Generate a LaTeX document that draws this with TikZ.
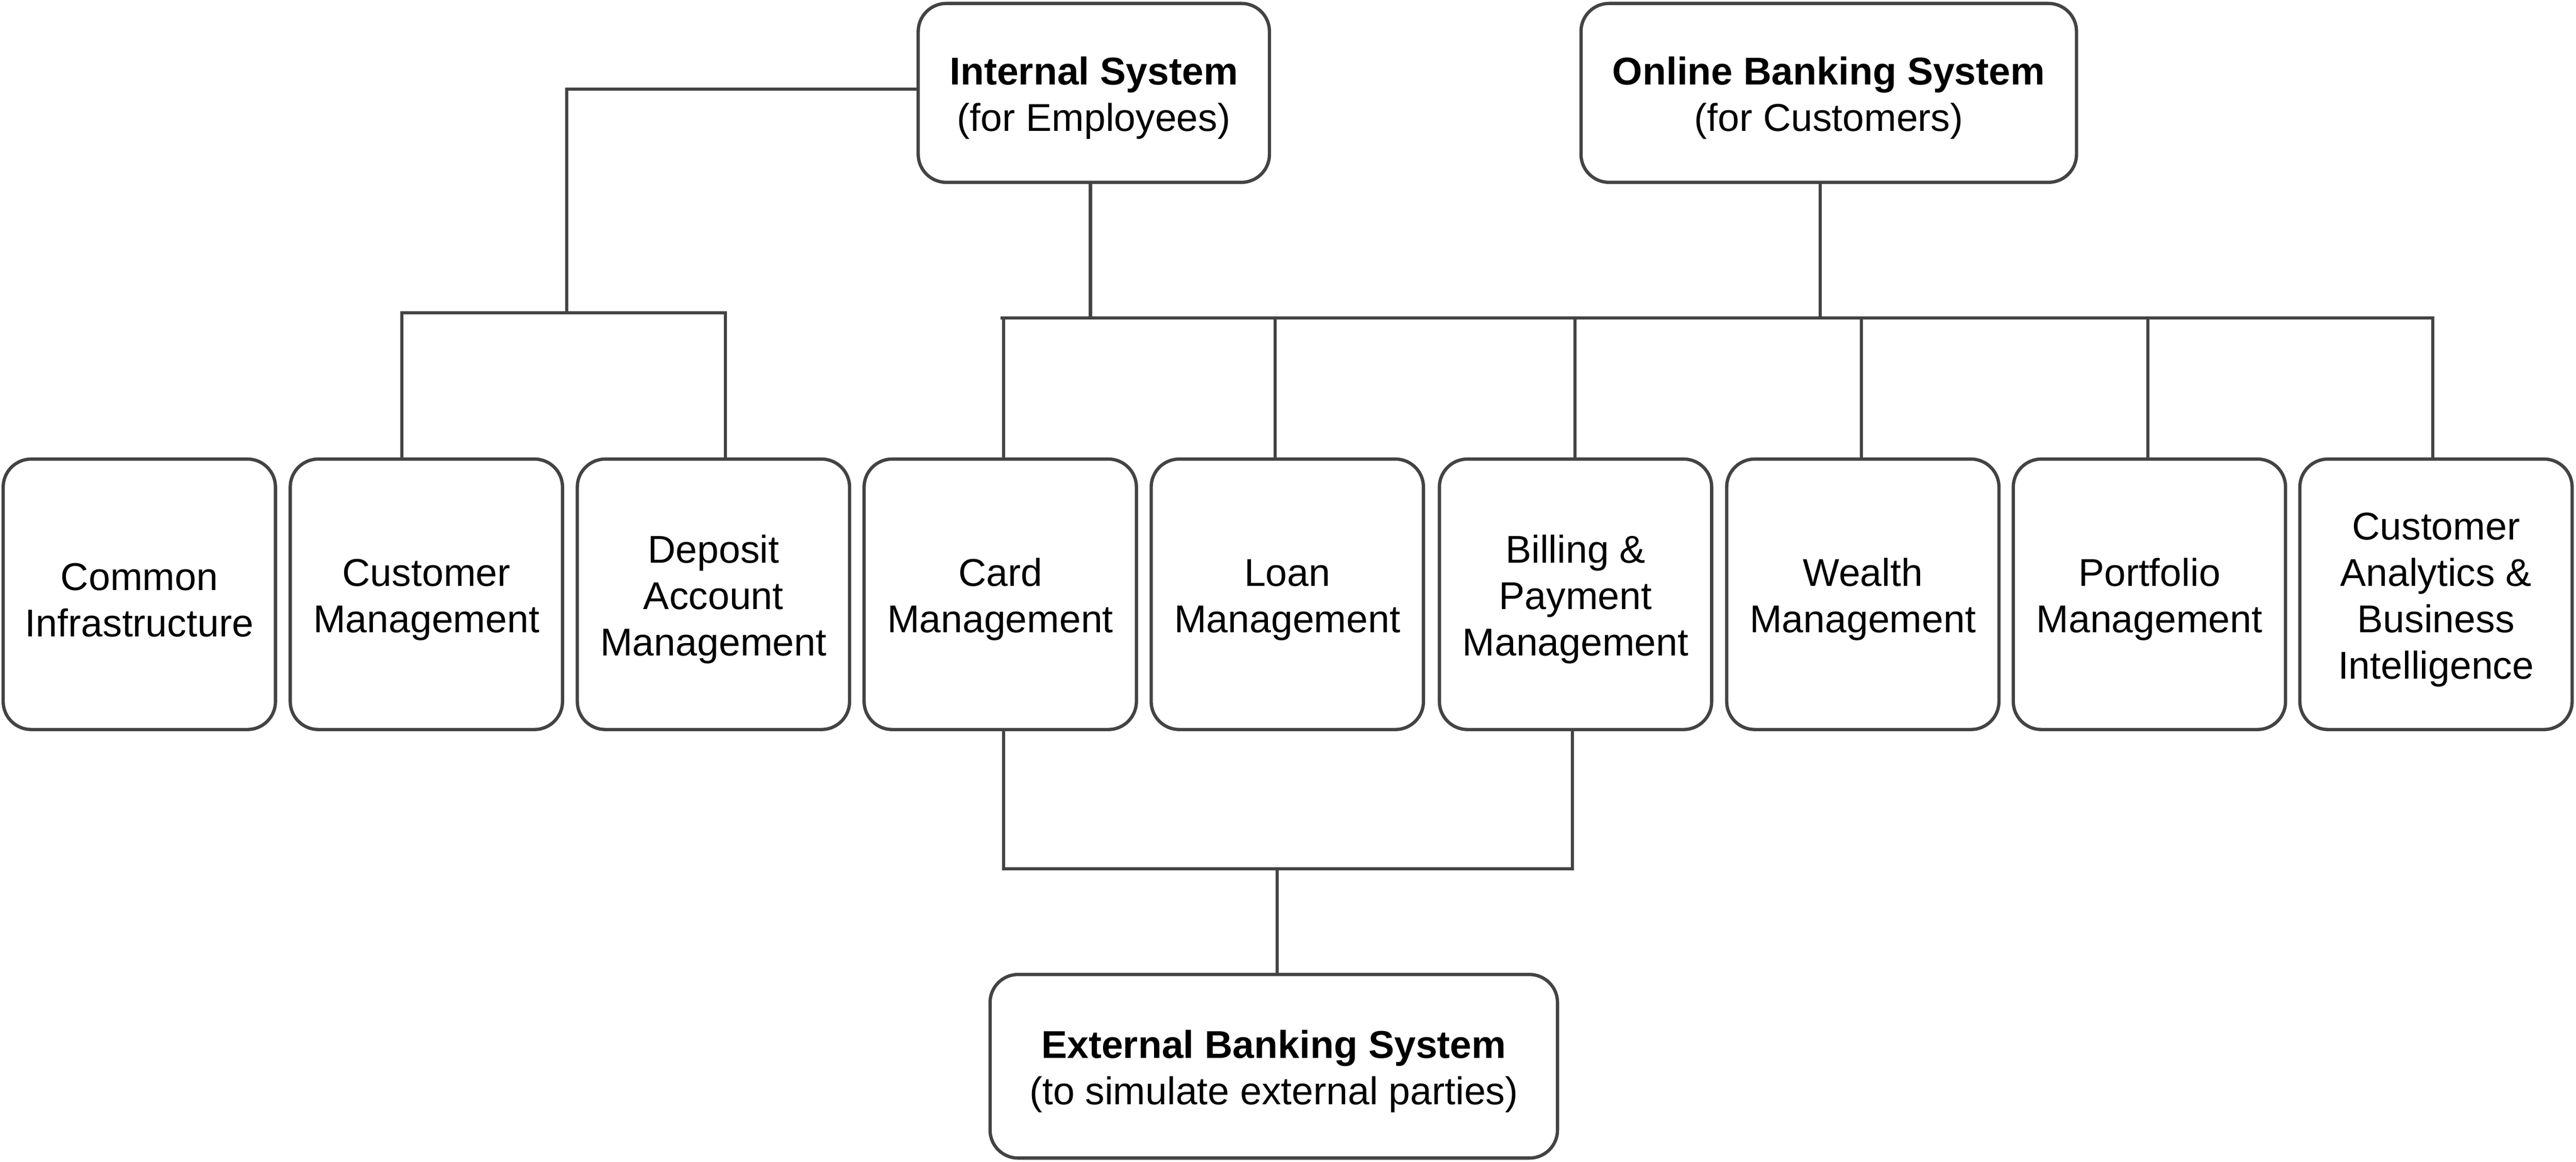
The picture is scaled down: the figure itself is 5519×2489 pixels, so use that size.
\documentclass[tikz,border=0pt]{standalone}
\usepackage{fontspec}
\setmainfont{Liberation Sans}
\definecolor{linegray}{HTML}{434343}
\newcommand{\topstrut}{\rule{0pt}{0.82cm}}
\begin{document}
\begin{tikzpicture}[x=0.01cm,y=-0.01cm,
  box/.style={draw=linegray, line width=2pt, rounded corners=0.6cm, fill=white,
    align=center, inner sep=0pt, font=\fontsize{23.6}{28.3}\selectfont},
  midbox/.style={box, minimum width=5.83cm, minimum height=5.79cm},
  conn/.style={draw=linegray, line width=2pt}]
\fill[white] (0,0) rectangle (5519,2489);
\useasboundingbox (0,0) rectangle (5519,2489);

% top boxes
\node[box, minimum width=7.52cm, minimum height=3.83cm] (int) at (2343.5,199)
  {\topstrut\textbf{Internal System}\\(for Employees)};
\node[box, minimum width=10.61cm, minimum height=3.83cm] (onl) at (3918,199)
  {\topstrut\textbf{Online Banking System}\\(for Customers)};

% middle row
\node[midbox] (com)  at (298.5,1273)  {\topstrut Common\\Infrastructure};
\node[midbox] (cust) at (913.5,1273)  {\topstrut Customer\\Management};
\node[midbox] (dep)  at (1528.5,1273) {\topstrut Deposit\\Account\\Management};
\node[midbox] (card) at (2143,1273)   {\topstrut Card\\Management};
\node[midbox] (loan) at (2758,1273)   {\topstrut Loan\\Management};
\node[midbox] (bill) at (3375.5,1273) {\topstrut Billing \&\\Payment\\Management};
\node[midbox] (wea)  at (3991,1273)   {\topstrut Wealth\\Management};
\node[midbox] (port) at (4605,1273)   {\topstrut Portfolio\\Management};
\node[midbox] (ana)  at (5219,1273)   {\topstrut Customer\\Analytics \&\\Business\\Intelligence};

% bottom box
\node[box, minimum width=12.15cm, minimum height=3.93cm] (ext) at (2729,2284)
  {\topstrut\textbf{External Banking System}\\(to simulate external parties)};

% internal system -> left branch
\coordinate (lv) at (1214,670);
\coordinate (la) at (861,670);
\coordinate (lb) at (1554,670);
\draw[conn] ([yshift=0.08cm]int.west) -| (lv);
\draw[conn] (cust.north -| la) -- (la) -- (lb) -- (dep.north -| lb);

% shared bus
\coordinate (iB) at (2336,681);
\coordinate (oB) at (3900,681);
\coordinate (bL) at (2143,681);
\coordinate (bR) at (5215,681);
\draw[conn] (int.south -| iB) -- (iB);
\draw[conn] (onl.south -| oB) -- (oB);
\draw[conn] (bL) -- (bR);
\coordinate (v1) at (2150,681);
\coordinate (v2) at (2732,681);
\coordinate (v3) at (3374,681);
\coordinate (v4) at (3988,681);
\coordinate (v5) at (4602,681);
\coordinate (v6) at (5212,681);
\draw[conn] (v1) -- (card.north -| v1);
\draw[conn] (v2) -- (loan.north -| v2);
\draw[conn] (v3) -- (bill.north -| v3);
\draw[conn] (v4) -- (wea.north -| v4);
\draw[conn] (v5) -- (port.north -| v5);
\draw[conn] (v6) -- (ana.north -| v6);

% bottom connection to external system
\coordinate (e1) at (2150,1861);
\coordinate (e2) at (3369,1861);
\coordinate (eM) at (2736,1861);
\draw[conn] (card.south -| e1) -- (e1) -- (e2) -- (bill.south -| e2);
\draw[conn] (eM) -- (ext.north -| eM);
\end{tikzpicture}
\end{document}
